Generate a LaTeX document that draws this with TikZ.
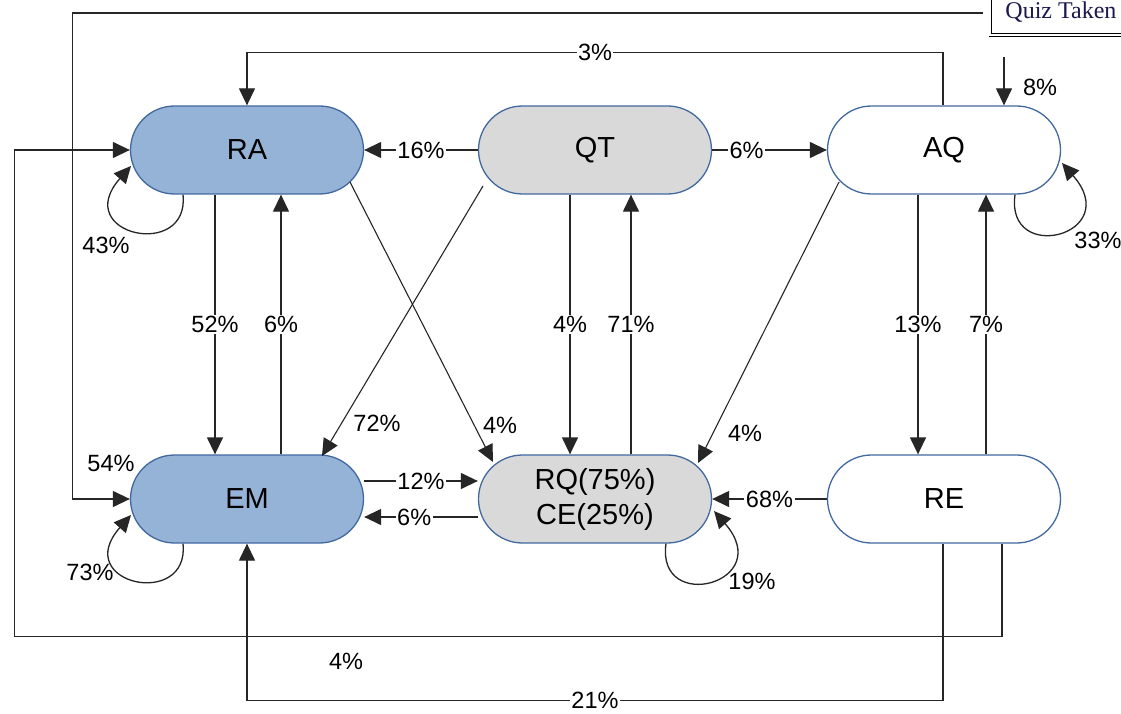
\documentclass[tikz,border=0pt]{standalone}
\usepackage{fontspec}
\setmainfont{Liberation Sans}
\newfontfamily\qzfont{Liberation Serif}
\usetikzlibrary{arrows.meta,shapes.misc,calc}
\definecolor{bdr}{RGB}{65,105,160}
\definecolor{bluefill}{RGB}{149,179,215}
\definecolor{greyfill}{RGB}{217,217,217}
\definecolor{qzcol}{RGB}{25,25,80}
\begin{document}
\begin{tikzpicture}[x=1pt,y=-1pt,
  state/.style={rounded rectangle, draw=bdr, line width=1.3pt, minimum width=233pt, minimum height=88pt, inner sep=0pt, font=\fontsize{29}{35}\selectfont},
  conn/.style={line width=1.3pt, draw=black!85, -{Triangle[length=17pt,width=16pt]}},
  thin conn/.style={conn, line width=1.1pt},
  lbl/.style={fill=white, inner sep=1.5pt, font=\fontsize{23.5}{26}\selectfont},
  flbl/.style={inner sep=0pt, font=\fontsize{23.5}{26}\selectfont}]
\clip (0,0) rectangle (1121,714);
\fill[white] (0,0) rectangle (1121,714);

\node[state, fill=bluefill] (RA) at (247,150) {RA};
\node[state, fill=greyfill] (QT) at (595,150) {QT};
\node[state, fill=white] (AQ) at (944,150) {AQ};
\node[state, fill=bluefill] (EM) at (247,499) {EM};
\node[state, fill=greyfill, align=center] (RQ) at (595,499) {RQ(75\%)\\CE(25\%)};
\node[state, fill=white] (RE) at (944,499) {RE};

\node[draw=black, double, double distance=2pt, line width=0.9pt, anchor=west, minimum height=46pt, inner xsep=15pt, font=\qzfont\fontsize{24}{26}\selectfont, text=qzcol] (qz) at (990,12) {Quiz Taken};

% horizontal
\draw[conn] (QT.west) -- node[lbl]{16\%} (RA.east);
\draw[conn] (QT.east) -- node[lbl,pos=0.3]{6\%} (AQ.west);
\draw[conn] ([shift={(0,-18)}]EM.east) -- node[lbl]{12\%} ([shift={(0,-18)}]RQ.west);
\draw[conn] ([shift={(0,18)}]RQ.west) -- node[lbl,pos=0.56]{6\%} ([shift={(0,18)}]EM.east);
\draw[conn] (RE.west) -- node[lbl]{68\%} (RQ.east);

% vertical
\draw[conn] ([shift={(-32,0)}]RA.south) -- node[lbl]{52\%} ([shift={(-32,0)}]EM.north);
\draw[conn] ([shift={(34,0)}]EM.north) -- node[lbl]{6\%} ([shift={(34,0)}]RA.south);
\draw[conn] ([shift={(-25,0)}]QT.south) -- node[lbl]{4\%} ([shift={(-25,0)}]RQ.north);
\draw[conn] ([shift={(36,0)}]RQ.north) -- node[lbl]{71\%} ([shift={(36,0)}]QT.south);
\draw[conn] ([shift={(-26,0)}]AQ.south) -- node[lbl]{13\%} ([shift={(-26,0)}]RE.north);
\draw[conn] ([shift={(42,0)}]RE.north) -- node[lbl]{7\%} ([shift={(42,0)}]AQ.south);

% diagonals
\draw[thin conn] ([shift={(103,32)}]RA.center) -- ([shift={(-102,-37)}]RQ.center);
\draw[thin conn] ([shift={(-112,36)}]QT.center) -- ([shift={(75,-43)}]EM.center);
\draw[thin conn] ([shift={(-105,32)}]AQ.center) -- ([shift={(103,-36)}]RQ.center);
\node[flbl] (l72) at (377,423) {72\%};
\node[flbl] (l4a) at (500,425) {4\%};
\node[flbl] (l4b) at (745,433) {4\%};

% self loops
\draw[conn] ([shift={(-64,0)}]RA.south) .. controls +(7,66) and +(-61,69) .. ([shift={(-116,16)}]RA.center);
\draw[conn] ([shift={(-64,0)}]EM.south) .. controls +(7,66) and +(-61,69) .. ([shift={(-116,16)}]EM.center);
\draw[conn] ([shift={(71,0)}]AQ.south) .. controls +(-10,71) and +(63,72) .. ([shift={(118,13)}]AQ.center);
\draw[conn] ([shift={(71,0)}]RQ.south) .. controls +(-10,71) and +(63,72) .. ([shift={(119,12)}]RQ.center);
\node[flbl] (l43) at (106,245) {43\%};
\node[flbl] (l73) at (90,572) {73\%};
\node[flbl] (l19) at (752,581) {19\%};
\node[flbl] (l33) at (1098,240) {33\%};

% long routes
\draw[conn] ([shift={(-1,0)}]AQ.north) -- ++(0,-53) -| node[lbl,pos=0.25]{3\%} (RA.north);
\coordinate (q8) at (1004,57);
\draw[conn] (q8) -- (q8 |- AQ.north);
\node[flbl] (l8) at (1040,87) {8\%};

\draw[conn] ([shift={(-7,1)}]qz.west) -| ([shift={(-57.5,0)}]EM.west) -- (EM.west);
\node[flbl] (l54) at (111,463) {54\%};

\draw[conn] ([shift={(58,0)}]RE.south) -- ++(0,93) -| ([shift={(-115.5,0)}]RA.west) -- (RA.west);
\node[flbl] (l4c) at (346,661) {4\%};

\draw[conn] ([shift={(-1,0)}]RE.south) -- ++(0,157) -| node[lbl,pos=0.25,inner ysep=0pt]{21\%} (EM.south);
\end{tikzpicture}
\end{document}
